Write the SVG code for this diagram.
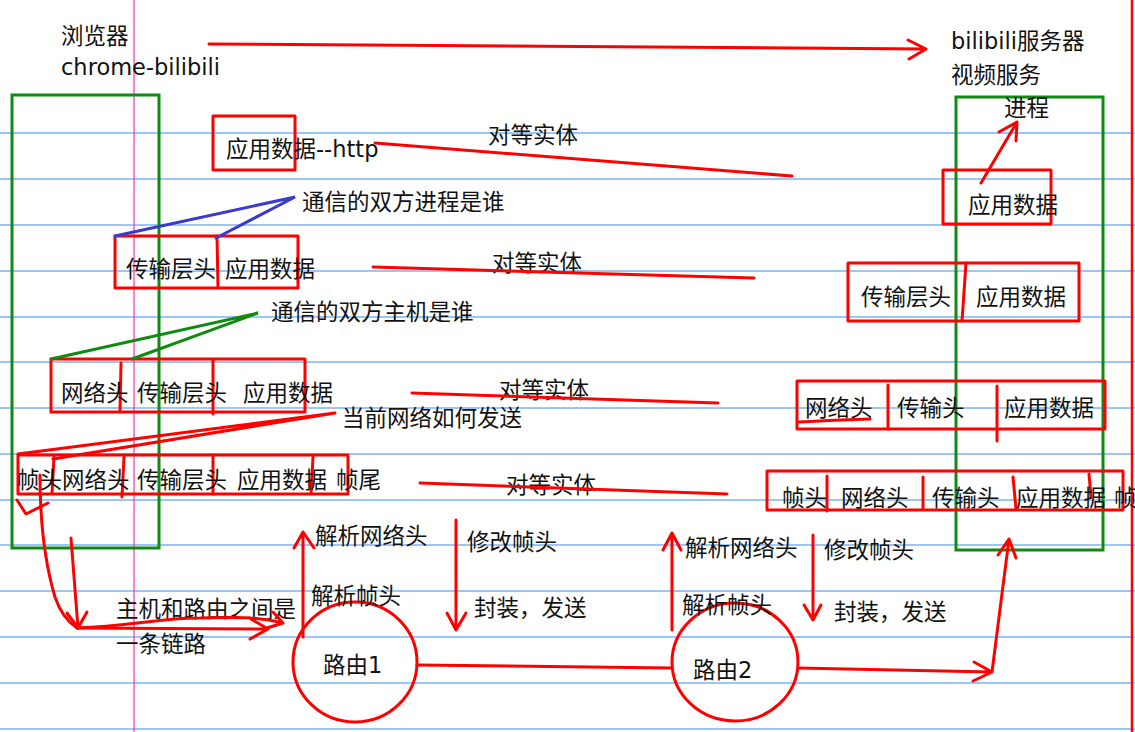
<svg xmlns="http://www.w3.org/2000/svg" width="1135" height="732" viewBox="0 0 1135 732">
<style>
text{font-family:"DejaVu Sans","Noto Sans CJK SC",sans-serif;font-size:22.5px;fill:#111}
.rule{stroke:#7db4ee;stroke-width:1.3}
.r{fill:none;stroke:#ff0000;stroke-width:3;stroke-linecap:round;stroke-linejoin:round}
.g{fill:none;stroke:#108a10;stroke-width:3}
.b{fill:none;stroke:#3a3acc;stroke-width:3;stroke-linecap:round}
.gl{fill:none;stroke:#108a10;stroke-width:3;stroke-linecap:round}
</style>
<rect width="1135" height="732" fill="#ffffff"/>
<g id="paper">
<line class="rule" x1="0" y1="133" x2="1135" y2="133"/>
<line class="rule" x1="0" y1="179" x2="1135" y2="179"/>
<line class="rule" x1="0" y1="225" x2="1135" y2="225"/>
<line class="rule" x1="0" y1="271" x2="1135" y2="271"/>
<line class="rule" x1="0" y1="317" x2="1135" y2="317"/>
<line class="rule" x1="0" y1="362" x2="1135" y2="362"/>
<line class="rule" x1="0" y1="408" x2="1135" y2="408"/>
<line class="rule" x1="0" y1="454" x2="1135" y2="454"/>
<line class="rule" x1="0" y1="500" x2="1135" y2="500"/>
<line class="rule" x1="0" y1="545" x2="1135" y2="545"/>
<line class="rule" x1="0" y1="591" x2="1135" y2="591"/>
<line class="rule" x1="0" y1="637" x2="1135" y2="637"/>
<line class="rule" x1="0" y1="683" x2="1135" y2="683"/>
<line class="rule" x1="0" y1="729" x2="1135" y2="729"/>
<line x1="134" y1="0" x2="134" y2="732" stroke="#ff2fa8" stroke-width="1.2"/>
<line x1="1132" y1="0" x2="1132" y2="732" stroke="#ff0000" stroke-width="2.5"/>
</g>

<g id="client">
<text x="61" y="44">浏览器</text>
<text x="61" y="75">chrome-bilibili</text>
<rect class="g" x="12" y="95" width="147" height="453"/>
</g>

<g id="server">
<text x="951" y="49">bilibili服务器</text>
<text x="951" y="83">视频服务</text>
<rect class="g" x="956" y="97" width="147" height="453"/>
<text x="1004" y="116">进程</text>
</g>

<g id="left-app">
<rect class="r" x="213" y="116" width="82" height="54"/>
<text x="226" y="157">应用数据--http</text>
</g>

<g id="left-transport">
<rect class="r" x="115" y="236" width="183" height="52"/>
<line class="r" x1="217" y1="236" x2="218" y2="288"/>
<text x="126" y="277">传输层头</text>
<text x="225" y="277">应用数据</text>
</g>

<g id="left-network">
<rect class="r" x="51" y="359" width="254" height="53"/>
<line class="r" x1="121" y1="363" x2="120" y2="411"/>
<line class="r" x1="213" y1="359" x2="213" y2="414"/>
<text x="61" y="401">网络头</text>
<text x="137" y="401">传输层头</text>
<text x="243" y="401">应用数据</text>
</g>

<g id="left-frame">
<rect class="r" x="18" y="455" width="330" height="39"/>
<line class="r" x1="54" y1="457" x2="52" y2="493"/>
<line class="r" x1="124" y1="457" x2="122" y2="497"/>
<line class="r" x1="213" y1="455" x2="213" y2="494"/>
<line class="r" x1="313" y1="457" x2="311" y2="493"/>
<text x="17" y="488">帧头</text>
<text x="62" y="488">网络头</text>
<text x="137" y="488">传输层头</text>
<text x="237" y="488">应用数据</text>
<text x="336" y="488">帧尾</text>
</g>

<g id="right-app">
<rect class="r" x="943" y="170" width="108" height="54"/>
<text x="968" y="213">应用数据</text>
</g>

<g id="right-transport">
<rect class="r" x="848" y="263" width="231" height="58"/>
<line class="r" x1="966" y1="263" x2="962" y2="321"/>
<text x="861" y="305">传输层头</text>
<text x="976" y="305">应用数据</text>
</g>

<g id="right-network">
<rect class="r" x="797" y="381" width="308" height="48"/>
<line class="r" x1="888" y1="385" x2="888" y2="429"/>
<line class="r" x1="997" y1="386" x2="997" y2="441"/>
<path class="r" d="M799 422 Q835 420 870 419"/>
<text x="805" y="416">网络头</text>
<text x="897" y="416">传输头</text>
<text x="1004" y="416">应用数据</text>
</g>

<g id="right-frame">
<rect class="r" x="767" y="471" width="356" height="39"/>
<line class="r" x1="827" y1="476" x2="827" y2="511"/>
<line class="r" x1="923" y1="477" x2="923" y2="509"/>
<line class="r" x1="1013" y1="477" x2="1016" y2="509"/>
<line class="r" x1="1089" y1="474" x2="1091" y2="497"/>
<text x="782" y="506">帧头</text>
<text x="841" y="506">网络头</text>
<text x="932" y="506">传输头</text>
<text x="1016" y="506">应用数据</text>
<text x="1114" y="506">帧尾</text>
</g>

<g id="router1">
<ellipse class="r" cx="355" cy="662" rx="62" ry="60"/>
<text x="323" y="673">路由1</text>
</g>

<g id="router2">
<ellipse class="r" cx="735" cy="662" rx="63" ry="59"/>
<text x="693" y="678">路由2</text>
</g>

<g id="labels">
<text x="488" y="143">对等实体</text>
<text x="492" y="271">对等实体</text>
<text x="499" y="398">对等实体</text>
<text x="506" y="493">对等实体</text>
<text x="302" y="210">通信的双方进程是谁</text>
<text x="271" y="320">通信的双方主机是谁</text>
<text x="342" y="426">当前网络如何发送</text>
<text x="116" y="617">主机和路由之间是</text>
<text x="116" y="652">一条链路</text>
<text x="315" y="544">解析网络头</text>
<text x="311" y="604">解析帧头</text>
<text x="467" y="550">修改帧头</text>
<text x="474" y="616">封装，发送</text>
<text x="685" y="556">解析网络头</text>
<text x="682" y="613">解析帧头</text>
<text x="824" y="558">修改帧头</text>
<text x="834" y="620">封装，发送</text>
</g>

<g id="connectors">
<path class="r" d="M209 44 L926 49 M908 40 L926 49 L909 59"/>
<path class="r" d="M981 183 L1017 122 M999 132 L1017 122 L1016 141"/>
<line class="r" x1="375" y1="143" x2="792" y2="176"/>
<line class="r" x1="373" y1="267" x2="754" y2="278"/>
<line class="r" x1="412" y1="393" x2="718" y2="403"/>
<line class="r" x1="420" y1="483" x2="727" y2="494"/>
<path class="b" d="M115 236 L295 197 L216 238"/>
<path class="gl" d="M51 359 L258 313 L132 359"/>
<path class="r" d="M18 454 L335 413 L53 459"/>
<path class="r" d="M17 500 L26 514 L48 503"/>
<path class="r" d="M40 475 C40 520 44 560 55 597 C60 612 68 622 77 628"/>
<path class="r" d="M71 538 L78 628 M67 613 L78 628 L87 612"/>
<path class="r" d="M77 628 L268 629 M251 619 L268 629 L250 639"/>
<path class="r" d="M77 628 C130 626 160 618 200 618 C240 617 260 617 283 623 L273 612 M283 623 L267 628"/>
<path class="r" d="M303 637 L303 532 M294 548 L303 532 L314 548"/>
<path class="r" d="M456 520 L456 630 M447 613 L456 630 L466 613"/>
<line class="r" x1="417" y1="665" x2="672" y2="668"/>
<path class="r" d="M672 630 L672 533 M663 550 L672 533 L681 550"/>
<path class="r" d="M813 535 L813 620 M804 605 L813 620 L821 605"/>
<path class="r" d="M798 668 L992 672 L1009 539 M974 662 L992 672 L973 681 M998 555 L1009 539 L1016 558"/>
</g>
</svg>
